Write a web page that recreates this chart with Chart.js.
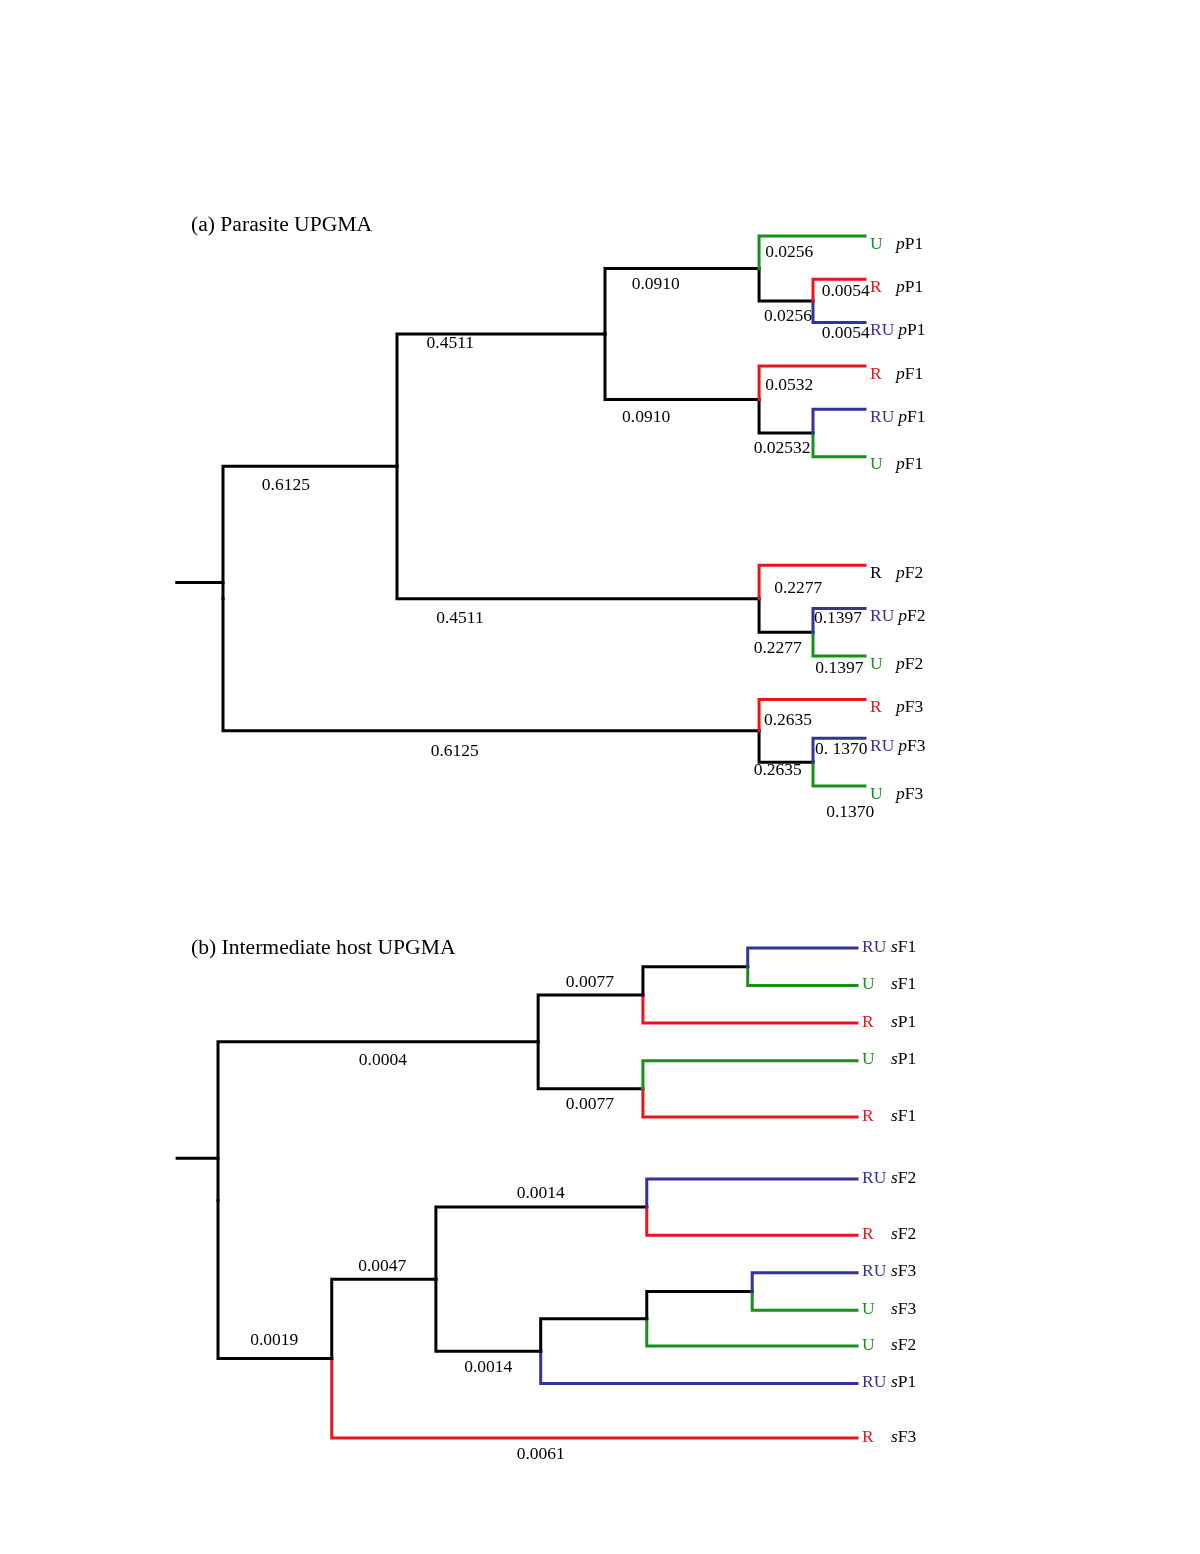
<!DOCTYPE html>
<html>
<head>
<meta charset="utf-8">
<title>UPGMA trees</title>
<script src="https://cdn.jsdelivr.net/npm/chart.js@4.4.1/dist/chart.umd.min.js"></script>
<style>
    html, body { margin: 0; padding: 0; background: #fff; }
    body { width: 1200px; height: 1554px; position: relative; overflow: hidden; }
    .panel { position: absolute; left: 150px; width: 800px; }
    #panelA { top: 200px; height: 640px; }
    #panelB { top: 920px; height: 560px; }
</style>
</head>
<body>
<div class="panel" id="panelA"><canvas id="treeA" width="800" height="640"></canvas></div>
<div class="panel" id="panelB"><canvas id="treeB" width="800" height="560"></canvas></div>
<script>
// (a) 寄生虫 UPGMA 树
const titleA = '(a) Parasite UPGMA';
const leafGroupA = ['U', 'R', 'RU', 'R', 'RU', 'U', 'R', 'RU', 'U', 'R', 'RU', 'U'];
const leafNameA = ['pP1', 'pP1', 'pP1', 'pF1', 'pF1', 'pF1', 'pF2', 'pF2', 'pF2', 'pF3', 'pF3', 'pF3'];
const leafRowA = [0, 1, 2, 3, 4, 5.1, 7.6, 8.6, 9.7, 10.7, 11.6, 12.7];
// [节点, 子节点1, 子节点2, 深度]
const treeA = [
    ['a1', 'R pP1', 'RU pP1', 91.9],
    ['a2', 'U pP1', 'a1', 83.5],
    ['a3', 'RU pF1', 'U pF1', 91.9],
    ['a4', 'R pF1', 'a3', 83.5],
    ['a5', 'a2', 'a4', 59.5],
    ['a6', 'RU pF2', 'U pF2', 91.9],
    ['a7', 'R pF2', 'a6', 83.5],
    ['a8', 'a5', 'a7', 27.1],
    ['a9', 'RU pF3', 'U pF3', 91.9],
    ['a10', 'R pF3', 'a9', 83.5],
    ['rootA', 'a8', 'a10', 0]
];
const rootStubA = [-7.2, 8.0];
const edgeTextA = ['0.6125', '0.6125', '0.4511', '0.4511', '0.0910', '0.0910', '0.0256', '0.0256', '0.0054', '0.0054',
    '0.0532', '0.02532', '0.2277', '0.2277', '0.1397', '0.1397', '0.2635', '0.2635', '0. 1370', '0.1370'];
const edgeDepthA = [9.8, 36.1, 35.4, 36.9, 67.4, 65.9, 88.2, 88.0, 97.0, 97.0, 88.2, 87.1, 89.6, 86.4, 95.8, 96.0, 88.0, 86.4, 96.3, 97.7];
const edgeRowA = [5.77, 11.89, 2.49, 8.82, 1.11, 4.18, 0.39, 1.85, 1.29, 2.24, 3.46, 4.90, 8.13, 9.52, 8.82, 9.98, 11.18, 12.33, 11.85, 13.30];
const blackLabelsA = ['R pF2'];

// (b) 中间宿主 UPGMA 树
const titleB = '(b) Intermediate host UPGMA';
const leafGroupB = ['RU', 'U', 'R', 'U', 'R', 'RU', 'R', 'RU', 'U', 'U', 'RU', 'R'];
const leafNameB = ['sF1', 'sF1', 'sP1', 'sP1', 'sF1', 'sF2', 'sF2', 'sF3', 'sF3', 'sF2', 'sP1', 'sF3'];
const leafRowB = [0, 1, 2, 3, 4.5, 6.15, 7.65, 8.65, 9.65, 10.6, 11.6, 13.05];
const treeB = [
    ['b1', 'RU sF1', 'U sF1', 82.9],
    ['b2', 'b1', 'R sP1', 66.5],
    ['b3', 'U sP1', 'R sF1', 66.5],
    ['b4', 'b2', 'b3', 50.1],
    ['b5', 'RU sF2', 'R sF2', 67.1],
    ['b6', 'RU sF3', 'U sF3', 83.6],
    ['b7', 'b6', 'U sF2', 67.1],
    ['b8', 'b7', 'RU sP1', 50.5],
    ['b9', 'b5', 'b8', 34.1],
    ['b10', 'b9', 'R sF3', 17.8],
    ['rootB', 'b4', 'b10', 0]
];
const rootStubB = [-6.4, 5.6];
const edgeTextB = ['0.0077', '0.0004', '0.0077', '0.0014', '0.0047', '0.0019', '0.0014', '0.0061'];
const edgeDepthB = [58.2, 25.8, 58.2, 50.5, 25.7, 8.8, 42.3, 50.5];
const edgeRowB = [0.91, 3.0, 4.16, 6.53, 8.48, 10.45, 11.17, 13.49];

const groupColors = { R: '#e8151b', U: '#16901a', RU: '#33339a' };
const FONT = '"Liberation Serif", "Times New Roman", serif';

function buildTree(canvasId, opt) {
    const rows = {}, depth = {}, color = {};
    opt.groups.forEach((g, i) => {
        const key = g + ' ' + opt.names[i];
        rows[key] = opt.leafRows[i];
        depth[key] = 100;
        color[key] = groupColors[g];
    });

    const datasets = [];
    opt.tree.forEach(([id, a, b, d]) => {
        rows[id] = (rows[a] + rows[b]) / 2;
        depth[id] = d;
        [a, b].forEach(child => {
            datasets.push({
                data: [
                    { x: d, y: rows[id] },
                    { x: d, y: rows[child] },
                    { x: depth[child], y: rows[child] }
                ],
                borderColor: color[child] || '#000'
            });
        });
    });
    datasets.push({
        data: [{ x: opt.stub[0], y: opt.stub[1] }, { x: 0, y: opt.stub[1] }],
        borderColor: '#000'
    });
    datasets.forEach(ds => Object.assign(ds, {
        showLine: true, pointRadius: 0, borderWidth: 3, fill: false,
        tension: 0, clip: false, borderJoinStyle: 'miter', borderCapStyle: 'square'
    }));

    // 画标签：分支长度、叶子名、标题
    const labelPlugin = {
        id: 'treeLabels',
        afterDatasetsDraw(chart) {
            const { ctx, scales: { x, y } } = chart;
            ctx.save();
            ctx.textBaseline = 'middle';
            ctx.font = '17.5px ' + FONT;
            ctx.fillStyle = '#000';
            ctx.textAlign = 'center';
            opt.edgeText.forEach((t, i) => {
                ctx.fillText(t, x.getPixelForValue(opt.edgeDepth[i]), y.getPixelForValue(opt.edgeRow[i]));
            });

            ctx.textAlign = 'left';
            const tip = x.getPixelForValue(100);
            opt.groups.forEach((g, i) => {
                const name = opt.names[i];
                const py = y.getPixelForValue(opt.leafRows[i]) + opt.leafShift;
                ctx.font = '17.5px ' + FONT;
                ctx.fillStyle = opt.blackLabels.includes(g + ' ' + name) ? '#000' : groupColors[g];
                ctx.fillText(g, tip + 5, py);
                const nx = Math.max(tip + opt.nameGap, tip + 5 + ctx.measureText(g).width + 4);
                ctx.fillStyle = '#000';
                ctx.font = 'italic 17.5px ' + FONT;
                ctx.fillText(name[0], nx, py);
                const w = ctx.measureText(name[0]).width;
                ctx.font = '17.5px ' + FONT;
                ctx.fillText(name.slice(1), nx + w, py);
            });

            ctx.font = '21.6px ' + FONT;
            ctx.fillText(opt.title, opt.titlePos[0], opt.titlePos[1]);
            ctx.restore();
        }
    };

    return new Chart(document.getElementById(canvasId), {
        type: 'scatter',
        data: { datasets },
        options: {
            responsive: false,
            animation: false,
            events: [],
            layout: { padding: opt.padding },
            plugins: { legend: { display: false }, tooltip: { enabled: false } },
            scales: {
                x: { type: 'linear', min: 0, max: 100, display: false },
                y: { type: 'linear', min: 0, max: opt.maxRow, reverse: true, display: false }
            }
        },
        plugins: [labelPlugin]
    });
}

buildTree('treeA', {
    title: titleA, titlePos: [41, 25],
    groups: leafGroupA, names: leafNameA, leafRows: leafRowA, tree: treeA, stub: rootStubA,
    edgeText: edgeTextA, edgeDepth: edgeDepthA, edgeRow: edgeRowA, blackLabels: blackLabelsA,
    maxRow: 12.7, padding: { left: 73, right: 85, top: 36, bottom: 54 },
    leafShift: 8, nameGap: 31
});

buildTree('treeB', {
    title: titleB, titlePos: [41, 28],
    groups: leafGroupB, names: leafNameB, leafRows: leafRowB, tree: treeB, stub: rootStubB,
    edgeText: edgeTextB, edgeDepth: edgeDepthB, edgeRow: edgeRowB, blackLabels: [],
    maxRow: 13.05, padding: { left: 68, right: 93, top: 28, bottom: 42 },
    leafShift: -1, nameGap: 34
});
</script>
</body>
</html>
